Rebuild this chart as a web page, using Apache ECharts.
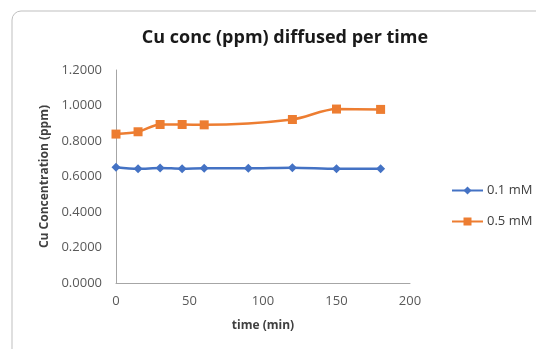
<!DOCTYPE html>
<html>
<head>
<meta charset="utf-8">
<script src="https://cdn.jsdelivr.net/npm/echarts@6/dist/echarts.min.js"></script>
<style>
  html, body { margin: 0; padding: 0; background: #fff; }
  #chart { width: 536px; height: 349px; }
</style>
</head>
<body>
<div id="chart"></div>
<script>
// time points (min) and measured concentrations (ppm)
const times01 = [0, 15, 30, 45, 60, 90, 120, 150, 180]
const conc01 = [0.652, 0.643, 0.648, 0.644, 0.646, 0.646, 0.650, 0.644, 0.644]
const times05 = [0, 15, 30, 45, 60, 120, 150, 180]
const conc05 = [0.839, 0.852, 0.893, 0.893, 0.891, 0.921, 0.980, 0.978]
const seriesNames = ['0.1 mM', '0.5 mM']

const font = 'Open Sans, Noto Sans, sans-serif'
const chart = echarts.init(document.getElementById('chart'))

chart.setOption({
  animation: false,
  textStyle: { fontFamily: font },
  graphic: [{
    type: 'rect',
    shape: { x: 12, y: 11, width: 600, height: 400, r: 9 },
    style: { fill: 'none', stroke: '#bfbfbf', lineWidth: 1 },
    silent: true
  }],
  title: {
    text: 'Cu conc (ppm) diffused per time',
    left: 280,
    textAlign: 'center',
    top: 24,
    textStyle: { fontSize: 18, fontWeight: 'bold', color: '#1a1a1a', fontFamily: font }
  },
  legend: {
    orient: 'vertical',
    left: 446,
    top: 179,
    itemWidth: 31,
    itemHeight: 10,
    itemGap: 18,
    textStyle: { fontSize: 13, color: '#404040', padding: [0, 0, 0, -1] },
    data: seriesNames
  },
  grid: { left: 116, right: 126, top: 70, bottom: 66 },
  xAxis: {
    type: 'value',
    min: 0, max: 200, interval: 50,
    name: 'time (min)',
    nameLocation: 'middle',
    nameGap: 37,
    nameTextStyle: { fontSize: 12, fontWeight: 'bold', color: '#404040' },
    axisLine: { lineStyle: { color: '#a6a6a6' } },
    axisTick: { show: false },
    splitLine: { show: false },
    axisLabel: { fontSize: 13, color: '#595959', margin: 12 }
  },
  yAxis: {
    type: 'value',
    min: 0, max: 1.2, interval: 0.2,
    name: 'Cu Concentration (ppm)',
    nameLocation: 'middle',
    nameGap: 65,
    nameTextStyle: { fontSize: 12, fontWeight: 'bold', color: '#404040' },
    axisLine: { show: true, lineStyle: { color: '#a6a6a6' } },
    axisTick: { show: false },
    splitLine: { show: false },
    axisLabel: {
      fontSize: 13, color: '#595959', margin: 14,
      formatter: v => v.toFixed(4)
    }
  },
  series: [
    {
      name: seriesNames[0],
      type: 'line',
      smooth: 0.3,
      data: times01.map((t, i) => [t, conc01[i]]),
      symbol: 'diamond',
      symbolSize: 9,
      color: '#4472C4',
      lineStyle: { width: 2.5 }
    },
    {
      name: seriesNames[1],
      type: 'line',
      smooth: 0.3,
      data: times05.map((t, i) => [t, conc05[i]]),
      symbol: 'rect',
      symbolSize: 9,
      color: '#ED7D31',
      lineStyle: { width: 2.5 }
    }
  ]
})
</script>
</body>
</html>
